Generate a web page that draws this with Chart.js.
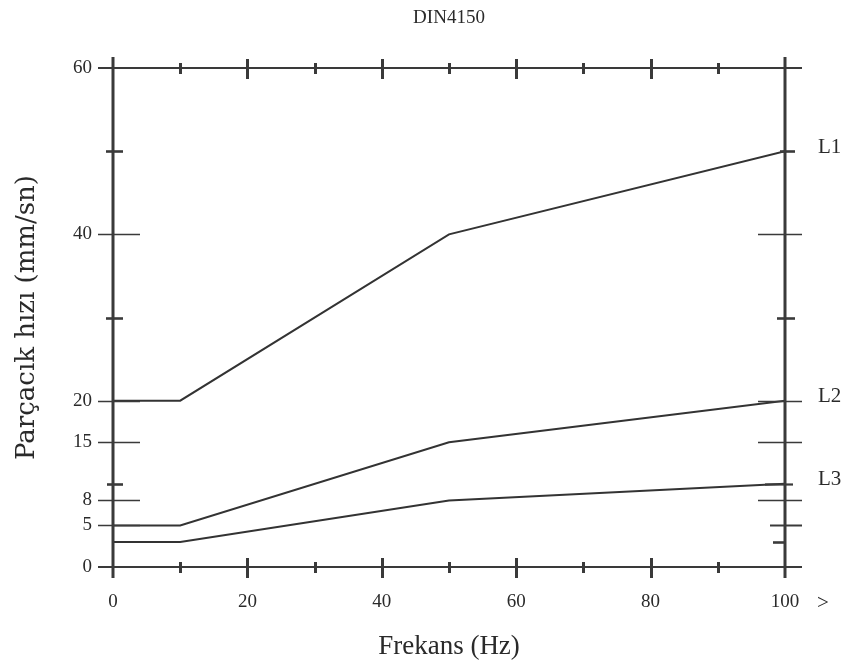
<!DOCTYPE html>
<html>
<head>
<meta charset="utf-8">
<script src="https://cdn.jsdelivr.net/npm/chart.js@4.4.0/dist/chart.umd.min.js"></script>
<style>
html,body{margin:0;padding:0;background:#fff;}
#wrap{width:845px;height:665px;}
</style>
</head>
<body>
<div id="wrap"><canvas id="c" width="845" height="665"></canvas></div>
<script>
// ---- data ----
const frequencies = [0, 10, 50, 100];
const seriesNames = ['L1', 'L2', 'L3'];
const L1 = [20, 20, 40, 50];
const L2 = [5, 5, 15, 20];
const L3 = [3, 3, 8, 10];
const yTickValues = [0, 3, 5, 8, 10, 15, 20, 30, 40, 50, 60];
const yTickLabels = [0, 5, 8, 15, 20, 40, 60];
const xTickValues = [0, 10, 20, 30, 40, 50, 60, 70, 80, 90, 100];
const xTickLabels = [0, 20, 40, 60, 80, 100];
const chartTitle = 'DIN4150';
const xTitle = 'Frekans (Hz)';
const yTitle = 'Parçacık hızı (mm/sn)';
const xArrow = '>';

const SERIF = '"Liberation Serif", "DejaVu Serif", serif';
const SLAB = '"DejaVu Serif", "Liberation Serif", serif';
const INK = '#2a2a2a';

function pts(ys) { return frequencies.map((x, i) => ({x: x, y: ys[i]})); }

const frame = {
  id: 'frame',
  afterDatasetsDraw(chart) {
    const {ctx, chartArea: a, scales: {x, y}} = chart;
    ctx.save();
    ctx.strokeStyle = '#3a3a3a';
    ctx.lineCap = 'butt';
    // border lines
    ctx.lineWidth = 2;
    ctx.beginPath();
    ctx.moveTo(a.left - 15, y.getPixelForValue(60)); ctx.lineTo(a.right + 17, y.getPixelForValue(60));
    ctx.moveTo(a.left - 15, y.getPixelForValue(0)); ctx.lineTo(a.right + 17, y.getPixelForValue(0));
    ctx.stroke();
    ctx.lineWidth = 3;
    ctx.beginPath();
    ctx.moveTo(x.getPixelForValue(0), a.top - 11); ctx.lineTo(x.getPixelForValue(0), a.bottom + 11);
    ctx.moveTo(x.getPixelForValue(100), a.top - 11); ctx.lineTo(x.getPixelForValue(100), a.bottom + 11);
    ctx.stroke();
    // vertical side ticks
    const leftStyle = {40:[-15,27,1.6],20:[-15,27,1.6],15:[-15,27,1.6],8:[-15,27,1.6],5:[-15,27,1.6],50:[-7,10,2.6],30:[-7,10,2.6],10:[-6,10,2.6]};
    const rightStyle = {40:[-27,17,1.6],20:[-27,17,1.6],15:[-27,17,1.6],8:[-27,17,1.6],5:[-15,17,2],50:[-5,10,2.6],30:[-8,10,2.6],10:[-20,8,2.2],3:[-12,0,2.6]};
    yTickValues.forEach(v => {
      const py = Math.round(y.getPixelForValue(v)) + 0.5;
      [[leftStyle, a.left], [rightStyle, a.right]].forEach(([st, ax]) => {
        const s = st[v];
        if (!s) return;
        ctx.lineWidth = s[2];
        ctx.beginPath();
        ctx.moveTo(ax + s[0], py); ctx.lineTo(ax + s[1], py);
        ctx.stroke();
      });
    });
    // horizontal side ticks
    xTickValues.forEach(v => {
      if (v === 0 || v === 100) return;
      const px = Math.round(x.getPixelForValue(v)) + 0.5;
      const major = xTickLabels.includes(v);
      ctx.lineWidth = 3;
      ctx.beginPath();
      if (major) {
        ctx.moveTo(px, a.bottom - 9); ctx.lineTo(px, a.bottom + 11);
        ctx.moveTo(px, a.top - 9); ctx.lineTo(px, a.top + 11);
      } else {
        ctx.moveTo(px, a.bottom - 5); ctx.lineTo(px, a.bottom + 6);
        ctx.moveTo(px, a.top - 5); ctx.lineTo(px, a.top + 6);
      }
      ctx.stroke();
    });
    // texts
    ctx.fillStyle = INK;
    ctx.textBaseline = 'middle';
    ctx.textAlign = 'center';
    ctx.font = '19px ' + SERIF;
    ctx.fillText(chartTitle, (a.left + a.right) / 2, 18);
    ctx.textAlign = 'left';
    ctx.font = '21px ' + SERIF;
    const last = frequencies.length - 1;
    [L1, L2, L3].forEach((s, i) => {
      ctx.fillText(seriesNames[i], a.right + 33, y.getPixelForValue(s[last]) - 4);
    });
    ctx.fillText(xArrow, a.right + 32, a.bottom + 36);
    ctx.restore();
  }
};

new Chart(document.getElementById('c'), {
  type: 'line',
  data: {
    datasets: [L1, L2, L3].map((s, i) => ({
      label: seriesNames[i],
      data: pts(s),
      borderColor: '#333',
      borderWidth: 2,
      pointRadius: 0,
      tension: 0,
      fill: false
    }))
  },
  options: {
    responsive: false,
    animation: false,
    events: [],
    layout: {padding: {left: 0, right: 60, top: 68, bottom: 0}},
    plugins: {legend: {display: false}, tooltip: {enabled: false}, title: {display: false}},
    scales: {
      x: {
        type: 'linear', min: 0, max: 100,
        border: {display: false},
        grid: {display: false, drawTicks: false},
        afterFit: s => { s.height = 98; },
        afterBuildTicks: s => { s.ticks = xTickLabels.map(v => ({value: v})); },
        ticks: {color: INK, font: {family: SERIF, size: 19}, padding: 24, maxRotation: 0, autoSkip: false},
        title: {display: true, text: xTitle, color: INK, font: {family: SERIF, size: 27}, padding: {top: 0, bottom: 2}}
      },
      y: {
        type: 'linear', min: 0, max: 60,
        border: {display: false},
        grid: {display: false, drawTicks: false},
        afterFit: s => { s.width = 113; },
        afterBuildTicks: s => { s.ticks = yTickLabels.map(v => ({value: v})); },
        ticks: {color: INK, font: {family: SERIF, size: 19}, padding: 21, autoSkip: false},
        title: {display: true, text: yTitle, color: INK, font: {family: SLAB, size: 26}, padding: {top: 12, bottom: 0}}
      }
    }
  },
  plugins: [frame]
});
</script>
</body>
</html>
